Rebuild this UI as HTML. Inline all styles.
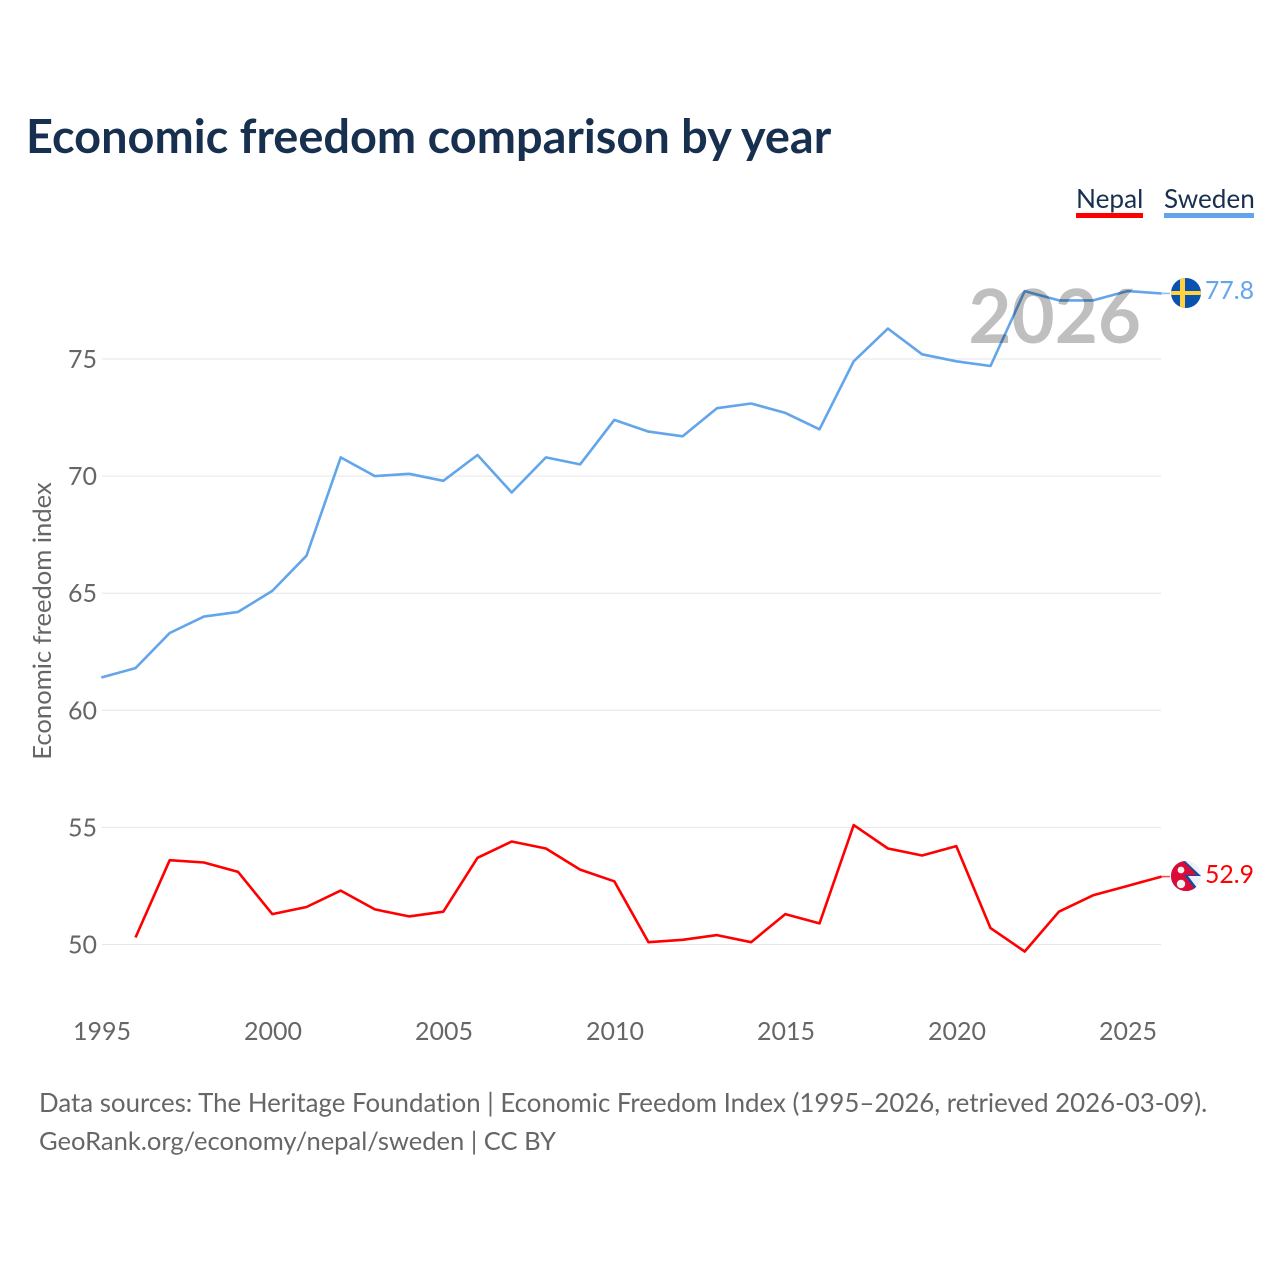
<!DOCTYPE html>
<html lang="en">
<head>
<meta charset="utf-8">
<title>Economic freedom comparison by year</title>
<style>
html,body{margin:0;padding:0;background:#fff;width:1280px;height:1280px;overflow:hidden}
svg{display:block;font-family:Lato,Carlito,"Liberation Sans",sans-serif;font-variant-ligatures:none}
</style>
</head>
<body>
<svg id="chart" width="1280" height="1280" viewBox="0 0 1280 1280" xmlns="http://www.w3.org/2000/svg">
  <defs>
    <clipPath id="flag-se-clip"><circle cx="1186" cy="293" r="15"/></clipPath>
    <clipPath id="flag-np-clip"><circle cx="1186" cy="876" r="15"/></clipPath>
  </defs>
  <rect width="1280" height="1280" fill="#fff"/>
  <text x="26" y="153" font-size="46.9" font-weight="700" fill="#18304f">Economic freedom comparison by year</text>

  <g id="gridlines"></g>
  <g id="y-ticks"></g>
  <g id="x-ticks"></g>
  <text transform="translate(51,621) rotate(-90)" text-anchor="middle" font-size="25.6" fill="#666">Economic freedom index</text>

  <g id="series"></g>

  <text x="1141" y="343" text-anchor="end" font-size="74.4" font-weight="700" fill="#000" fill-opacity="0.25">2026</text>

  <g>
    <text x="1076" y="208" font-size="26.2" fill="#18304f">Nepal</text>
    <rect x="1076" y="213" width="67" height="5" fill="#ff0000"/>
  </g>
  <g>
    <text x="1164" y="208" font-size="26.1" fill="#18304f">Sweden</text>
    <rect x="1164" y="213" width="90" height="5" fill="#62a5ea"/>
  </g>

  <g clip-path="url(#flag-se-clip)">
    <rect x="1171" y="278" width="30" height="30" fill="#0b52b0"/>
    <rect x="1180" y="278" width="5" height="30" fill="#ffd23f"/>
    <rect x="1171" y="291" width="30" height="4" fill="#ffd23f"/>
  </g>
  <text x="1254" y="299" text-anchor="end" font-size="24.8" fill="#62a5ea">77.8</text>

  <g clip-path="url(#flag-np-clip)">
    <rect x="1171" y="861" width="30" height="30" fill="#eef1f6"/>
    <polygon points="1171,859 1183,859 1201,876 1188,876 1201,893 1171,893" fill="#0b4ea2"/>
    <polygon points="1171,859 1181,859 1197,875 1184,875 1198,893 1171,893" fill="#dc0a37"/>
    <circle cx="1181" cy="870" r="3.4" fill="#f3f3f3"/>
    <circle cx="1181" cy="884" r="4.2" fill="#f3f3f3"/>
  </g>
  <text x="1254" y="883" text-anchor="end" font-size="24.8" fill="#ff0000">52.9</text>

  <text x="39" y="1112" font-size="25.85" fill="#666">Data sources: The Heritage Foundation | Economic Freedom Index (1995–2026, retrieved 2026-03-09).</text>
  <text x="39" y="1150" font-size="25.55" fill="#666">GeoRank.org/economy/nepal/sweden | CC BY</text>
</svg>
<script>
var years = [1995,1996,1997,1998,1999,2000,2001,2002,2003,2004,2005,2006,2007,2008,2009,2010,2011,2012,2013,2014,2015,2016,2017,2018,2019,2020,2021,2022,2023,2024,2025,2026];
var swedenValues = [61.4,61.8,63.3,64.0,64.2,65.1,66.6,70.8,70.0,70.1,69.8,70.9,69.3,70.8,70.5,72.4,71.9,71.7,72.9,73.1,72.7,72.0,74.9,76.3,75.2,74.9,74.7,77.9,77.5,77.5,77.9,77.8];
var nepalValues = [null,50.3,53.6,53.5,53.1,51.3,51.6,52.3,51.5,51.2,51.4,53.7,54.4,54.1,53.2,52.7,50.1,50.2,50.4,50.1,51.3,50.9,55.1,54.1,53.8,54.2,50.7,49.7,51.4,52.1,52.5,52.9];
var yTickValues = [50,55,60,65,70,75];
var xTickValues = [1995,2000,2005,2010,2015,2020,2025];

var NS = 'http://www.w3.org/2000/svg';
function xScale(year) { return 101.3 + (year - 1995) * 34.2; }
function yScale(value) { return 944.5 - (value - 50) * 23.42; }

var gridGroup = document.getElementById('gridlines');
var yTickGroup = document.getElementById('y-ticks');
var xTickGroup = document.getElementById('x-ticks');
var seriesGroup = document.getElementById('series');

yTickValues.forEach(function (v) {
  var line = document.createElementNS(NS, 'line');
  
  
  line.setAttribute('x1', 102);
  line.setAttribute('x2', 1161);
  line.setAttribute('y1', yScale(v));
  line.setAttribute('y2', yScale(v));
  line.setAttribute('stroke', '#e6e6e6');
  line.setAttribute('stroke-width', '1');
  gridGroup.appendChild(line);

  var label = document.createElementNS(NS, 'text');
  
  
  label.setAttribute('x', 97);
  label.setAttribute('y', yScale(v) + 9);
  label.setAttribute('text-anchor', 'end');
  label.setAttribute('font-size', '25');
  label.setAttribute('fill', '#666');
  label.textContent = v;
  yTickGroup.appendChild(label);
});

xTickValues.forEach(function (yr) {
  var label = document.createElementNS(NS, 'text');
  
  
  label.setAttribute('x', xScale(yr) + 0.7);
  label.setAttribute('y', 1040);
  label.setAttribute('text-anchor', 'middle');
  label.setAttribute('font-size', '25');
  label.setAttribute('fill', '#666');
  label.textContent = yr;
  xTickGroup.appendChild(label);
});

function drawSeries(values, color, name) {
  var pts = [];
  values.forEach(function (v, i) {
    if (v !== null) pts.push(xScale(years[i]).toFixed(1) + ',' + yScale(v).toFixed(1));
  });
  var poly = document.createElementNS(NS, 'polyline');
  
  
  poly.setAttribute('points', pts.join(' '));
  poly.setAttribute('fill', 'none');
  poly.setAttribute('stroke', color);
  poly.setAttribute('stroke-width', '2.6');
  poly.setAttribute('stroke-linejoin', 'round');
  seriesGroup.appendChild(poly);

  var last = values[values.length - 1];
  var conn = document.createElementNS(NS, 'line');
  
  
  conn.setAttribute('x1', xScale(years[years.length - 1]));
  conn.setAttribute('x2', 1170);
  conn.setAttribute('y1', yScale(last));
  conn.setAttribute('y2', yScale(last));
  conn.setAttribute('stroke', color);
  conn.setAttribute('stroke-width', '1.6');
  conn.setAttribute('stroke-opacity', '0.7');
  seriesGroup.appendChild(conn);
}
drawSeries(nepalValues, '#ff0000', 'nepal-line');
drawSeries(swedenValues, '#62a5ea', 'sweden-line');
</script>
</body>
</html>
